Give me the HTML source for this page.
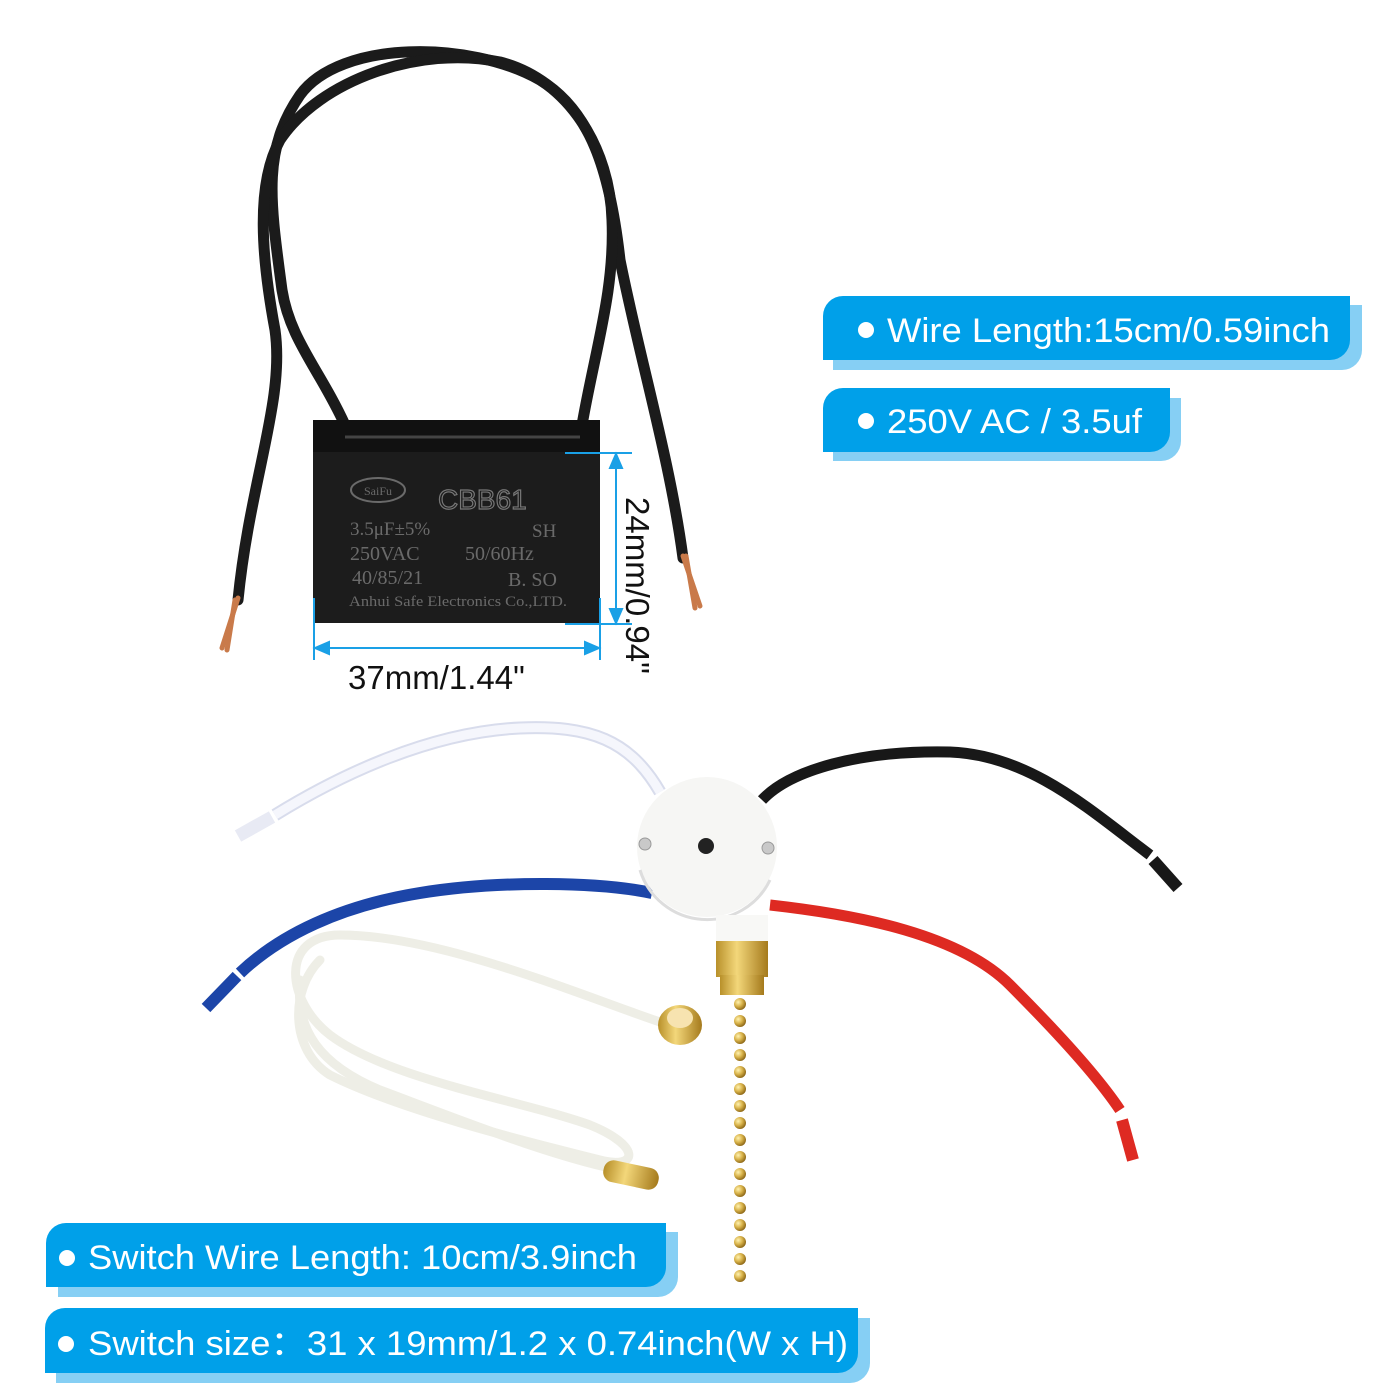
<!DOCTYPE html>
<html><head><meta charset="utf-8"><style>
html,body{margin:0;padding:0;background:#fff;}
svg{display:block;}
.s{font-family:"Liberation Sans",Arial,sans-serif;}
.sf{font-family:"Liberation Serif",serif;}
</style></head><body>
<svg width="1400" height="1400" viewBox="0 0 1400 1400" xmlns="http://www.w3.org/2000/svg">
<defs>
<linearGradient id="brass" x1="0" x2="1"><stop offset="0" stop-color="#b8902a"/><stop offset="0.4" stop-color="#f3d77a"/><stop offset="1" stop-color="#a57a1c"/></linearGradient>
<radialGradient id="bead" cx="0.35" cy="0.35" r="0.7"><stop offset="0" stop-color="#fff2b0"/><stop offset="0.5" stop-color="#d9b34a"/><stop offset="1" stop-color="#8a6414"/></radialGradient>
</defs>

<g fill="none" stroke="#1b1b1b" stroke-width="11" stroke-linecap="round">
<path d="M345 425 C320 370 290 340 282 290 C270 200 262 150 300 95 C340 40 470 40 540 80 C590 110 610 170 620 260 C640 360 670 460 683 558"/>
<path d="M582 425 C595 350 615 290 612 220 C610 150 570 80 500 62 C420 45 320 80 280 140 C255 185 262 260 275 330 C285 400 250 480 238 600"/>
</g>
<g stroke="#c97a4a" stroke-width="5" fill="none" stroke-linecap="round">
<path d="M238 598 L222 648"/><path d="M235 600 L227 650"/>
<path d="M683 556 L700 606"/><path d="M686 556 L695 608"/>
</g>

<rect x="313" y="420" width="287" height="203" fill="#1c1c1c"/>
<rect x="313" y="420" width="287" height="32" fill="#111"/>
<path d="M345 437 L580 437" stroke="#444" stroke-width="3"/>
<g fill="#6a6a6a" class="sf">
<ellipse cx="378" cy="490" rx="27" ry="12" fill="none" stroke="#6a6a6a" stroke-width="2"/>
<text x="378" y="495" font-size="12" text-anchor="middle" class="sf">SaiFu</text>
<text x="438" y="509" font-size="28" class="s" fill="none" stroke="#777" stroke-width="1.2">CBB61</text>
<text x="350" y="535" font-size="19" class="sf">3.5μF±5%</text>
<text x="532" y="537" font-size="19" class="sf">SH</text>
<text x="350" y="560" font-size="20" class="sf">250VAC</text>
<text x="465" y="560" font-size="20" class="sf">50/60Hz</text>
<text x="352" y="584" font-size="20" class="sf">40/85/21</text>
<text x="508" y="586" font-size="20" class="sf">B. SO</text>
<text x="349" y="606" font-size="15" class="sf" textLength="218" lengthAdjust="spacingAndGlyphs">Anhui Safe Electronics Co.,LTD.</text>
</g>

<g stroke="#1aa0e6" stroke-width="2" fill="#1aa0e6">
<line x1="565" y1="453" x2="632" y2="453"/>
<line x1="565" y1="624" x2="632" y2="624"/>
<line x1="616" y1="460" x2="616" y2="616"/>
<path d="M616 454 L610 468 L622 468Z"/><path d="M616 623 L610 609 L622 609Z"/>
<line x1="314" y1="598" x2="314" y2="660"/>
<line x1="600" y1="598" x2="600" y2="660"/>
<line x1="320" y1="648" x2="594" y2="648"/>
<path d="M315 648 L329 642 L329 654Z"/><path d="M599 648 L585 642 L585 654Z"/>
</g>
<text x="348" y="689" font-size="33" fill="#111" class="s">37mm/1.44"</text>
<text x="0" y="0" font-size="33" fill="#111" class="s" transform="translate(626 497) rotate(90)">24mm/0.94"</text>

<g class="s">
<path d="M833 305 H1362 V350 a20 20 0 0 1 -20 20 H833Z" fill="#86cff4"/>
<path d="M843 296 H1350 V340 a20 20 0 0 1 -20 20 H823 V316 a20 20 0 0 1 20 -20Z" fill="#00a0e9"/>
<circle cx="866" cy="330" r="8" fill="#fff"/>
<text x="887" y="342" font-size="34" fill="#fff" textLength="443" lengthAdjust="spacingAndGlyphs">Wire Length:15cm/0.59inch</text>

<path d="M833 398 H1181 V441 a20 20 0 0 1 -20 20 H833Z" fill="#86cff4"/>
<path d="M843 388 H1170 V432 a20 20 0 0 1 -20 20 H823 V408 a20 20 0 0 1 20 -20Z" fill="#00a0e9"/>
<circle cx="866" cy="421" r="8" fill="#fff"/>
<text x="887" y="433" font-size="34" fill="#fff" textLength="255" lengthAdjust="spacingAndGlyphs">250V AC / 3.5uf</text>

<path d="M58 1232 H678 V1277 a20 20 0 0 1 -20 20 H58Z" fill="#86cff4"/>
<path d="M66 1223 H666 V1267 a20 20 0 0 1 -20 20 H46 V1243 a20 20 0 0 1 20 -20Z" fill="#00a0e9"/>
<circle cx="67" cy="1258" r="8" fill="#fff"/>
<text x="88" y="1269" font-size="34" fill="#fff" textLength="549" lengthAdjust="spacingAndGlyphs">Switch Wire Length: 10cm/3.9inch</text>

<path d="M56 1318 H870 V1363 a20 20 0 0 1 -20 20 H56Z" fill="#86cff4"/>
<path d="M65 1308 H858 V1353 a20 20 0 0 1 -20 20 H45 V1328 a20 20 0 0 1 20 -20Z" fill="#00a0e9"/>
<circle cx="66" cy="1344" r="8" fill="#fff"/>
<text x="88" y="1355" font-size="34" fill="#fff" textLength="760" lengthAdjust="spacingAndGlyphs">Switch size：31 x 19mm/1.2 x 0.74inch(W x H)</text>
</g>

<g fill="none" stroke-linecap="butt">
<path d="M660 792 C630 740 590 725 520 728 C430 732 340 775 275 815" stroke="#d8dcec" stroke-width="13"/>
<path d="M660 792 C630 740 590 725 520 728 C430 732 340 775 275 815" stroke="#f5f6fc" stroke-width="9"/>
<path d="M272 817 L238 836" stroke="#e8eaf4" stroke-width="13"/>
<path d="M652 893 C600 882 500 880 420 893 C340 906 280 935 240 973" stroke="#1c45a8" stroke-width="12"/>
<path d="M237 976 L206 1008" stroke="#1c45a8" stroke-width="12"/>
<path d="M762 800 C790 770 860 750 950 752 C1030 755 1090 810 1150 855" stroke="#181818" stroke-width="11"/>
<path d="M1153 860 L1178 888" stroke="#181818" stroke-width="12"/>
<path d="M770 905 C860 915 960 935 1010 985 C1060 1035 1100 1080 1120 1110" stroke="#de2a22" stroke-width="11"/>
<path d="M1122 1120 L1133 1160" stroke="#de2a22" stroke-width="12"/>
</g>

<g fill="none" stroke="#eeeee6" stroke-width="9" stroke-linecap="round">
<path d="M660 1022 C580 995 440 935 340 935 C280 935 285 1000 330 1035 C390 1080 520 1100 590 1125 C640 1145 640 1170 600 1160 C520 1140 400 1110 330 1075 C290 1050 290 990 320 960"/>
<path d="M630 1172 C560 1160 460 1120 380 1090 C320 1065 295 1030 300 980"/>
</g>
<ellipse cx="680" cy="1025" rx="22" ry="20" fill="url(#brass)"/>
<ellipse cx="680" cy="1018" rx="13" ry="10" fill="#f7e3b0"/>
<rect x="603" y="1164" width="56" height="22" rx="10" fill="url(#brass)" transform="rotate(12 631 1175)"/>

<circle cx="707" cy="847" r="70" fill="#f6f6f4"/>
<path d="M640 870 a70 70 0 0 0 130 10" fill="none" stroke="#ddd" stroke-width="3"/>
<circle cx="706" cy="846" r="8" fill="#222"/>
<circle cx="645" cy="844" r="6" fill="#c9c9c9" stroke="#999"/>
<circle cx="768" cy="848" r="6" fill="#c9c9c9" stroke="#999"/>
<rect x="716" y="915" width="52" height="28" fill="#f8f8f6"/>
<rect x="716" y="941" width="52" height="36" fill="url(#brass)"/>
<rect x="720" y="975" width="44" height="20" fill="url(#brass)"/>
<g fill="url(#bead)">
<circle cx="740" cy="1004" r="6"/><circle cx="740" cy="1021" r="6"/><circle cx="740" cy="1038" r="6"/><circle cx="740" cy="1055" r="6"/><circle cx="740" cy="1072" r="6"/><circle cx="740" cy="1089" r="6"/><circle cx="740" cy="1106" r="6"/><circle cx="740" cy="1123" r="6"/><circle cx="740" cy="1140" r="6"/><circle cx="740" cy="1157" r="6"/><circle cx="740" cy="1174" r="6"/><circle cx="740" cy="1191" r="6"/><circle cx="740" cy="1208" r="6"/><circle cx="740" cy="1225" r="6"/><circle cx="740" cy="1242" r="6"/><circle cx="740" cy="1259" r="6"/><circle cx="740" cy="1276" r="6"/>
</g>
</svg>
</body></html>
